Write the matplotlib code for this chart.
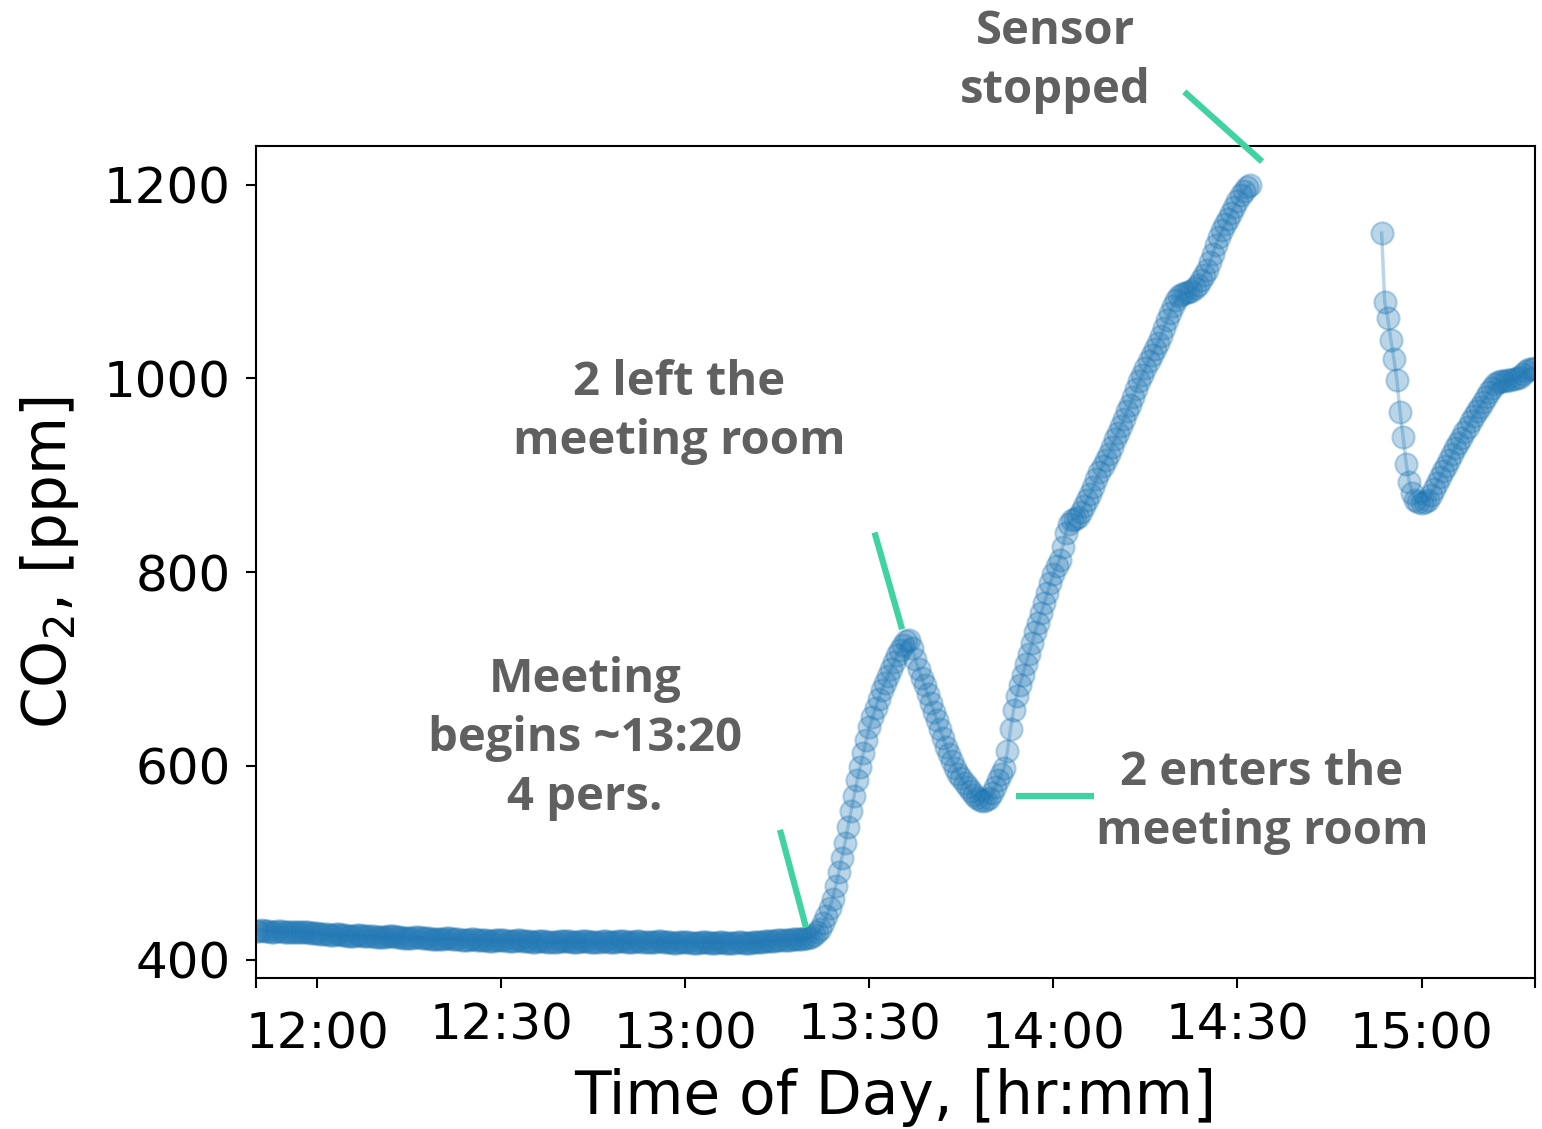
import matplotlib
matplotlib.use("Agg")
import matplotlib.pyplot as plt
import numpy as np

# ---------------- data ----------------
# CO2 readings every 30 s, segment 1: 11:50:00 -> 14:32:00
co2_seg1 = [
    430, 430, 431, 430, 430, 429, 429, 430, 430, 429, 429, 428, 428, 428, 429, 429, 428, 428, 427, 427,
    427, 426, 426, 426, 425, 425, 426, 426, 425, 425, 424, 424, 424, 425, 425, 424, 424, 424, 424, 423,
    423, 423, 423, 424, 424, 424, 423, 423, 422, 422, 422, 422, 423, 423, 422, 422, 422, 421, 421, 421,
    421, 421, 422, 422, 421, 421, 421, 420, 420, 420, 421, 421, 420, 420, 420, 420, 419, 419, 420, 420,
    420, 420, 419, 419, 419, 420, 420, 419, 419, 419, 418, 418, 419, 419, 419, 418, 418, 418, 418, 419,
    419, 419, 419, 418, 418, 418, 419, 419, 419, 418, 418, 418, 418, 419, 419, 418, 418, 418, 419, 419,
    419, 418, 418, 418, 419, 419, 418, 418, 418, 418, 418, 419, 419, 418, 418, 418, 417, 417, 418, 418,
    418, 418, 417, 417, 417, 418, 418, 418, 417, 417, 417, 418, 418, 417, 417, 417, 417, 418, 418, 417,
    417, 417, 418, 418, 418, 418, 419, 419, 419, 419, 420, 420, 420, 420, 420, 421, 421, 421, 421, 422,
    422, 423, 425, 428, 432, 438, 445, 453, 463, 476, 490, 505, 520, 537, 553, 569, 585, 599, 613, 627,
    640, 650, 660, 669, 678, 686, 693, 700, 707, 714, 720, 725, 729, 730, 722, 710, 700, 691, 683, 674,
    665, 656, 647, 638, 629, 620, 612, 605, 598, 592, 587, 582, 578, 574, 570, 567, 565, 564, 565, 567,
    572, 578, 585, 592, 598, 615, 638, 658, 672, 684, 694, 705, 716, 727, 738, 748, 758, 768, 778, 789,
    798, 806, 813, 826, 840, 850, 854, 855, 857, 862, 868, 875, 881, 888, 896, 903, 910, 916, 922, 929,
    937, 944, 951, 958, 966, 973, 981, 989, 997, 1004, 1011, 1018, 1024, 1030, 1037, 1044, 1052, 1060, 1068, 1075,
    1081, 1085, 1087, 1088, 1089, 1090, 1093, 1097, 1102, 1107, 1112, 1120, 1129, 1138, 1146, 1153, 1159, 1165, 1171, 1177,
    1183, 1189, 1194, 1198, 1200,
]
# segment 2 (after sensor restart): 14:53:30 -> 15:18:30, every 30 s
co2_seg2 = [
    1150, 1079, 1062, 1040, 1020, 998, 965, 940, 912, 893,
    882, 875, 872, 871, 872, 875, 880, 886, 892, 898,
    904, 910, 916, 922, 928, 933, 939, 945, 950, 956,
    961, 966, 971, 976, 981, 986, 990, 994, 996, 997,
    997, 998, 998, 999, 1000, 1002, 1005, 1008, 1010, 1010,
    1011,
]
seg1_start = "2019-01-01T11:50:00"
seg2_start = "2019-01-01T14:53:30"
sample_seconds = 30

tick_times = ["12:00", "12:30", "13:00", "13:30", "14:00", "14:30", "15:00"]
y_ticks = [400, 600, 800, 1000, 1200]

# annotations: (text, time, ppm)
notes = [
    ("Sensor\nstopped", "14:00:20", 1328),
    ("2 left the\nmeeting room", "12:59:00", 965),
    ("Meeting\nbegins ~13:20\n4 pers.", "12:43:40", 628),
    ("2 enters the\nmeeting room", "14:34:00", 563),
]
# pointer segments: ((time0, ppm0), (time1, ppm1))
pointers = [
    (("13:15:25", 534), ("13:19:40", 433)),
    (("13:30:50", 841), ("13:35:20", 741)),
    (("13:53:55", 569), ("14:06:35", 569)),
    (("14:21:20", 1296), ("14:34:00", 1224)),
]

day = "2019-01-01T"
def T(hms):
    if len(hms) == 5:
        hms = hms + ":00"
    return np.datetime64(day + hms)

step = np.timedelta64(sample_seconds, "s")
times1 = np.datetime64(seg1_start) + np.arange(len(co2_seg1)) * step
times2 = np.datetime64(seg2_start) + np.arange(len(co2_seg2)) * step

# ---------------- figure ----------------
fig = plt.figure(figsize=(15.42, 11.29), dpi=100)
ax = fig.add_axes([0.16602, 0.13375, 0.82944, 0.73693])

blue = "#1f77b4"
for tt, vv in ((times1, co2_seg1), (times2, co2_seg2)):
    ax.plot(tt, vv, "o-", color=blue, alpha=0.3, markersize=16,
            markeredgewidth=1.5, linewidth=2.5)

ax.set_xlim(T("11:50:00"), T("15:18:30"))
ax.set_ylim(381, 1240)

ax.set_xticks([T(s) for s in tick_times])
ax.set_xticklabels(tick_times)
ax.set_xticks([T("11:50:00"), T("15:18:30")], minor=True)
ax.set_yticks(y_ticks)
ax.set_yticklabels([str(v) for v in y_ticks])

ax.tick_params(axis="both", which="both", direction="out", length=7, width=1.5,
               labelsize=36, colors="black")
ax.tick_params(axis="x", which="both", pad=10)
ax.tick_params(axis="y", pad=11)
for s in ax.spines.values():
    s.set_linewidth(1.5)

for i, lab in enumerate(ax.get_xticklabels()):
    if i % 2 == 0:
        lab.set_y(-0.011)

ax.set_xlabel("Time of Day, [hr:mm]", fontsize=43)
ax.set_ylabel("CO$_2$, [ppm]", fontsize=43)
ax.xaxis.set_label_coords(0.5, -0.108)
ax.yaxis.set_label_coords(-0.137, 0.5)

green = "#40d2a0"
for (t0, v0), (t1, v1) in pointers:
    ax.plot([T(t0), T(t1)], [v0, v1], color=green, linewidth=4.5,
            solid_capstyle="butt", clip_on=False, zorder=5)

for txt, t, v in notes:
    ax.text(T(t), v, txt, ha="center", va="center", fontsize=34,
            fontfamily=["Open Sans", "DejaVu Sans"], fontweight="bold",
            color="#606060", linespacing=1.33, clip_on=False, zorder=6)

fig.savefig("out.png", dpi=100)
